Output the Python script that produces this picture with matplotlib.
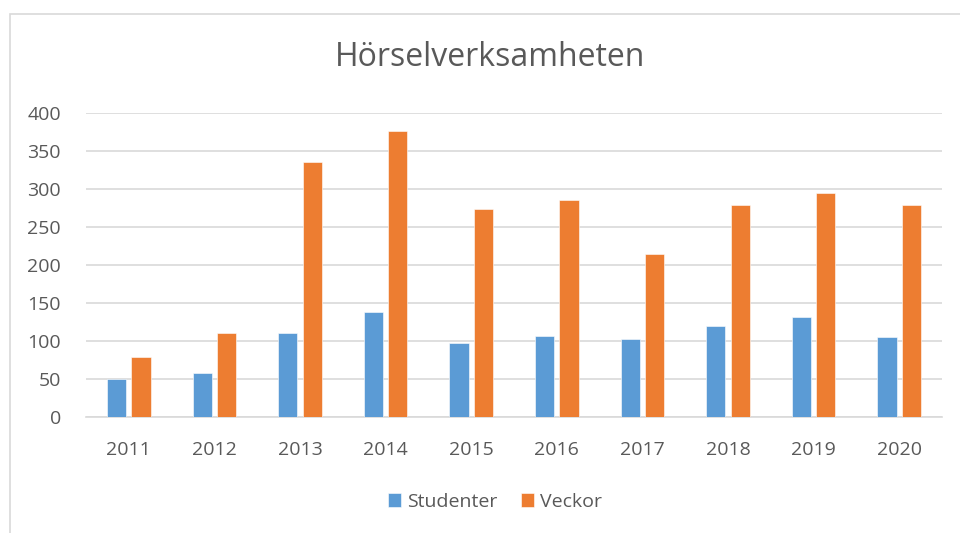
import matplotlib
matplotlib.use("Agg")
import matplotlib.pyplot as plt
import numpy as np
from matplotlib.patches import Rectangle

years = ["2011", "2012", "2013", "2014", "2015", "2016", "2017", "2018", "2019", "2020"]
studenter = [50, 58, 111, 138, 98, 107, 102, 120, 131, 105]
veckor = [79, 111, 336, 376, 274, 285, 214, 279, 295, 279]
series_names = ["Studenter", "Veckor"]
yticks = [0, 50, 100, 150, 200, 250, 300, 350, 400]

plt.rcParams['font.family'] = ['Open Sans', 'DejaVu Sans']
TXT = '#595959'
BLUE = '#5B9BD5'
ORANGE = '#ED7D31'
GRID = '#D9D9D9'

W, H = 960, 533
fig = plt.figure(figsize=(9.6, 5.33), dpi=100)

# outer chart border
fig.patches.append(Rectangle((9.5 / W, -0.05), 1.2, 1 - 13.5 / H + 0.05,
                             transform=fig.transFigure, fill=False,
                             edgecolor=GRID, linewidth=1.2))

ax = fig.add_axes([86 / W, 1 - 417 / H, (942 - 86) / W, (417 - 113) / H])
x = np.arange(len(years))
bw = 0.225
off = 0.142
ax.bar(x - off, studenter, bw, color=BLUE, edgecolor='white', linewidth=0.4,
       label=series_names[0], zorder=3)
ax.bar(x + off, veckor, bw, color=ORANGE, edgecolor='white', linewidth=0.4,
       label=series_names[1], zorder=3)

ax.set_xlim(-0.5, len(years) - 0.5)
ax.set_ylim(0, 400)
ax.set_yticks(yticks)
ax.set_yticklabels([str(v) for v in yticks])
ax.set_xticks(x)
ax.set_xticklabels(years)
ax.grid(axis='y', color=GRID, linewidth=1.2, zorder=0)
ax.set_axisbelow(True)
for s in ['top', 'right', 'left']:
    ax.spines[s].set_visible(False)
ax.spines['bottom'].set_color(GRID)
ax.spines['bottom'].set_linewidth(1.2)
ax.tick_params(axis='both', length=0, colors=TXT, labelsize=14)
ax.tick_params(axis='y', pad=18)
ax.tick_params(axis='x', pad=17)

fig.text(490 / W, 1 - 58 / H, "Hörselverksamheten", ha='center', va='center',
         fontsize=23, color=TXT)

leg = fig.legend(loc='center', bbox_to_anchor=(495 / W, 1 - 502 / H), ncol=2,
                 frameon=False, fontsize=14, handlelength=0.7, handleheight=0.7,
                 handletextpad=0.3, columnspacing=1.2, labelcolor=TXT)

fig.savefig("out.png", dpi=100)
